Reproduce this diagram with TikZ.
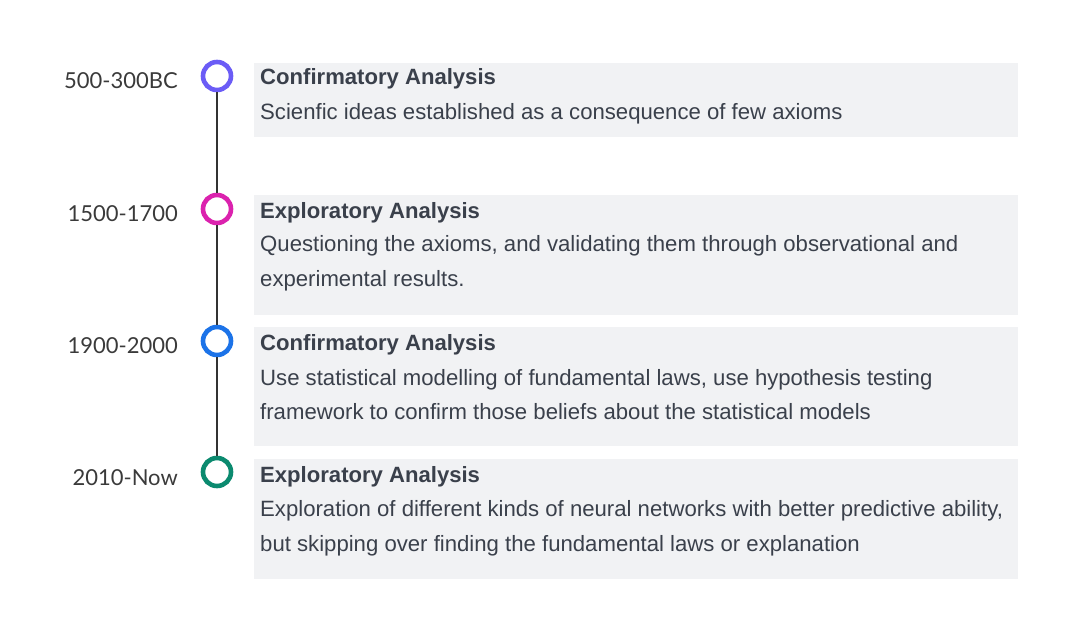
\documentclass[tikz,border=0pt]{standalone}
\usepackage{fontspec}
\setmainfont{Liberation Sans}
\newfontfamily\yearfont{Lato}
\definecolor{boxbg}{HTML}{F1F2F4}
\definecolor{txt}{HTML}{3A404B}
\definecolor{yeartxt}{HTML}{3A3A3A}
\definecolor{cA}{HTML}{6B5CF6}
\definecolor{cB}{HTML}{DB22AE}
\definecolor{cC}{HTML}{1C73E8}
\definecolor{cD}{HTML}{0B8A6F}
\begin{document}
\begin{tikzpicture}[x=1pt,y=-1pt,
  panel/.style={fill=boxbg, draw=none, anchor=north west, minimum width=764pt, inner sep=0pt},
  ttl/.style={anchor=base west, inner sep=0pt, text=txt, font=\fontsize{22.1}{26}\selectfont\bfseries},
  body/.style={anchor=base west, inner sep=0pt, text=txt, font=\fontsize{22.15}{26}\selectfont},
  yr/.style={anchor=base east, inner sep=0pt, text=yeartxt, font=\yearfont\fontsize{22}{26}\selectfont},
  dot/.style={circle, line width=4.6pt, minimum size=28pt, inner sep=0pt, fill=white},
  stem/.style={line width=2pt, draw=black!80}]
\useasboundingbox (0,0) rectangle (1083,631);
% panels
\node[panel, minimum height=74pt] (p1) at (254,63) {};
\node[panel, minimum height=120pt] (p2) at (254,195) {};
\node[panel, minimum height=119pt] (p3) at (254,327) {};
\node[panel, minimum height=120pt] (p4) at (254,459) {};
% circles
\node[dot, draw=cA] (c1) at (217,76) {};
\node[dot, draw=cB] (c2) at (217,209) {};
\node[dot, draw=cC] (c3) at (217,341) {};
\node[dot, draw=cD] (c4) at (217,472) {};
\draw[stem] (c1) -- (c2);
\draw[stem] (c2) -- (c3);
\draw[stem] (c3) -- (c4);
% years
\node[yr] (y1) at (178,89) {500-300BC};
\node[yr] (y2) at (178,221) {1500-1700};
\node[yr] (y3) at (178,353) {1900-2000};
\node[yr] (y4) at (178,485) {2010-Now};
% texts
\node[ttl] (t1) at (260,85) {Confirmatory Analysis};
\node[body] (d1) at (260,120) {Scienfic ideas established as a consequence of few axioms};
\node[ttl] (t2) at (260,218) {Exploratory Analysis};
\node[body] (d2a) at (260,251) {Questioning the axioms, and validating them through observational and};
\node[body] (d2b) at (260,286) {experimental results.};
\node[ttl] (t3) at (260,350) {Confirmatory Analysis};
\node[body] (d3a) at (260,385) {Use statistical modelling of fundamental laws, use hypothesis testing};
\node[body] (d3b) at (260,419) {framework to confirm those beliefs about the statistical models};
\node[ttl] (t4) at (260,482) {Exploratory Analysis};
\node[body] (d4a) at (260,516) {Exploration of different kinds of neural networks with better predictive ability,};
\node[body] (d4b) at (260,551) {but skipping over finding the fundamental laws or explanation};
\end{tikzpicture}
\end{document}
